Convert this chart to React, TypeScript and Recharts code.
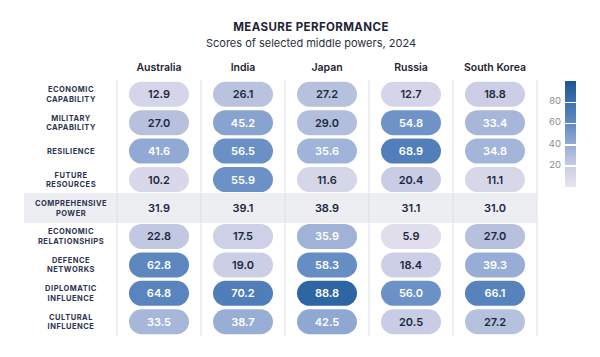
import { ScatterChart, Scatter, XAxis, YAxis } from "recharts";

const COUNTRIES = ["Australia", "India", "Japan", "Russia", "South Korea"];
const MEASURES = [
  "ECONOMIC CAPABILITY",
  "MILITARY CAPABILITY",
  "RESILIENCE",
  "FUTURE RESOURCES",
  "COMPREHENSIVE POWER",
  "ECONOMIC RELATIONSHIPS",
  "DEFENCE NETWORKS",
  "DIPLOMATIC INFLUENCE",
  "CULTURAL INFLUENCE",
];
const AUSTRALIA = [12.9, 27.0, 41.6, 10.2, 31.9, 22.8, 62.8, 64.8, 33.5];
const INDIA = [26.1, 45.2, 56.5, 55.9, 39.1, 17.5, 19.0, 70.2, 38.7];
const JAPAN = [27.2, 29.0, 35.6, 11.6, 38.9, 35.9, 58.3, 88.8, 42.5];
const RUSSIA = [12.7, 54.8, 68.9, 20.4, 31.1, 5.9, 18.4, 56.0, 20.5];
const SOUTH_KOREA = [18.8, 33.4, 34.8, 11.1, 31.0, 27.0, 39.3, 66.1, 27.2];
const SERIES = [AUSTRALIA, INDIA, JAPAN, RUSSIA, SOUTH_KOREA];
const SUMMARY_ROW = "COMPREHENSIVE POWER";
const LEGEND_TICKS = [20, 40, 60, 80];
const LEGEND_MAX = 100;

// value -> colour
const COLOR_STOPS: [number, string][] = [
  [0, "#e9e3f1"],
  [20, "#c9cde4"],
  [40, "#95acd4"],
  [60, "#628ac2"],
  [80, "#3d72ae"],
  [100, "#1b5594"],
];

const data = COUNTRIES.flatMap((country, ci) =>
  MEASURES.map((measure, mi) => ({ country, measure, value: SERIES[ci][mi] }))
);

const W = 600;
const H = 357;
const LEFT = 117;
const RIGHT = 63;
const TOP = 50;
const XAXIS_H = 30;
const BOTTOM = 21;
const COL_W = (W - LEFT - RIGHT) / COUNTRIES.length;
const PLOT_TOP = TOP + XAXIS_H;
const PLOT_BOTTOM = H - BOTTOM;
const FONT = "Inter, 'Noto Sans', sans-serif";

function hex(c: string) {
  return [1, 3, 5].map((i) => parseInt(c.slice(i, i + 2), 16));
}

function colorAt(v: number) {
  for (let i = 1; i < COLOR_STOPS.length; i++) {
    const [v1, c1] = COLOR_STOPS[i];
    const [v0, c0] = COLOR_STOPS[i - 1];
    if (v <= v1) {
      const t = (v - v0) / (v1 - v0);
      const a = hex(c0);
      const b = hex(c1);
      return `rgb(${a.map((x, k) => Math.round(x + (b[k] - x) * t)).join(",")})`;
    }
  }
  return COLOR_STOPS[COLOR_STOPS.length - 1][1];
}

const Cell = (props: any) => {
  const { cx, cy, payload } = props;
  const isSummary = payload.measure === SUMMARY_ROW;
  const dark = isSummary || payload.value < 30;
  return (
    <g>
      {/* grey band behind the summary row, drawn once with the first column */}
      {isSummary && payload.country === COUNTRIES[0] && (
        <rect x={24} y={cy - 15} width={W - RIGHT - 24} height={30} fill="#eceef2" />
      )}
      {!isSummary && (
        <rect x={cx - 30} y={cy - 12.5} width={60} height={25} rx={12.5} fill={colorAt(payload.value)} />
      )}
      <text
        x={cx}
        y={cy}
        dy={4}
        textAnchor="middle"
        fontFamily={FONT}
        fontSize={11}
        fontWeight={600}
        fill={dark ? "#1e2840" : "#ffffff"}
      >
        {payload.value.toFixed(1)}
      </text>
    </g>
  );
};

const HeaderTick = (props: any) => {
  const { x, payload, index } = props;
  const left = x - COL_W / 2;
  return (
    <g>
      <line x1={left} x2={left} y1={PLOT_TOP} y2={PLOT_BOTTOM} stroke="#dde0e6" />
      {index === COUNTRIES.length - 1 && (
        <line x1={left + COL_W} x2={left + COL_W} y1={PLOT_TOP} y2={PLOT_BOTTOM} stroke="#dde0e6" />
      )}
      <text x={x} y={71} textAnchor="middle" fontFamily={FONT} fontSize={10.5} fontWeight={600} fill="#1f2433">
        {payload.value}
      </text>
    </g>
  );
};

const RowTick = (props: any) => {
  const { y, payload } = props;
  const words = String(payload.value).split(" ");
  return (
    <text
      x={71}
      y={y - (words.length - 1) * 4.8}
      textAnchor="middle"
      fontFamily={FONT}
      fontSize={7.5}
      fontWeight={700}
      letterSpacing={0.5}
      fill="#2c3550"
    >
      {words.map((w, i) => (
        <tspan key={w} x={71} dy={i === 0 ? 2.8 : 9.6}>
          {w}
        </tspan>
      ))}
    </text>
  );
};

export default function App() {
  return (
    <div style={{ position: "absolute", left: 0, top: 0, width: W, height: H, background: "#fff", fontFamily: FONT }}>
      <div style={{ position: "absolute", top: 20, left: 0, width: 622, textAlign: "center", fontSize: 11.5, fontWeight: 700, letterSpacing: 0.4, color: "#1f2433" }}>
        MEASURE PERFORMANCE
      </div>
      <div style={{ position: "absolute", top: 36, left: 0, width: 622, textAlign: "center", fontSize: 11, color: "#2a2f3c" }}>
        Scores of selected middle powers, 2024
      </div>
      <ScatterChart width={W} height={H} margin={{ top: TOP, right: RIGHT, bottom: BOTTOM, left: 0 }}>
        <YAxis
          type="category"
          dataKey="measure"
          allowDuplicatedCategory={false}
          reversed
          width={LEFT}
          axisLine={false}
          tickLine={false}
          interval={0}
          tick={<RowTick />}
        />
        <XAxis
          type="category"
          dataKey="country"
          orientation="top"
          allowDuplicatedCategory={false}
          height={XAXIS_H}
          axisLine={false}
          tickLine={false}
          interval={0}
          tick={<HeaderTick />}
        />
        <Scatter data={data} shape={<Cell />} isAnimationActive={false} />
      </ScatterChart>
      <div
        style={{
          position: "absolute",
          left: 565,
          top: 81,
          width: 11,
          height: 106,
          background: `linear-gradient(to top, ${COLOR_STOPS.map(([v, c]) => `${c} ${v}%`).join(", ")})`,
        }}
      />
      {LEGEND_TICKS.map((t) => {
        const top = 81 + (1 - t / LEGEND_MAX) * 106;
        return (
          <div key={t}>
            <div style={{ position: "absolute", left: 565, top: top - 0.5, width: 11, height: 1.5, background: "#fff" }} />
            <div style={{ position: "absolute", left: 530, top: top - 7, width: 31, textAlign: "right", fontSize: 9.5, color: "#8a8d94" }}>
              {t}
            </div>
          </div>
        );
      })}
    </div>
  );
}
